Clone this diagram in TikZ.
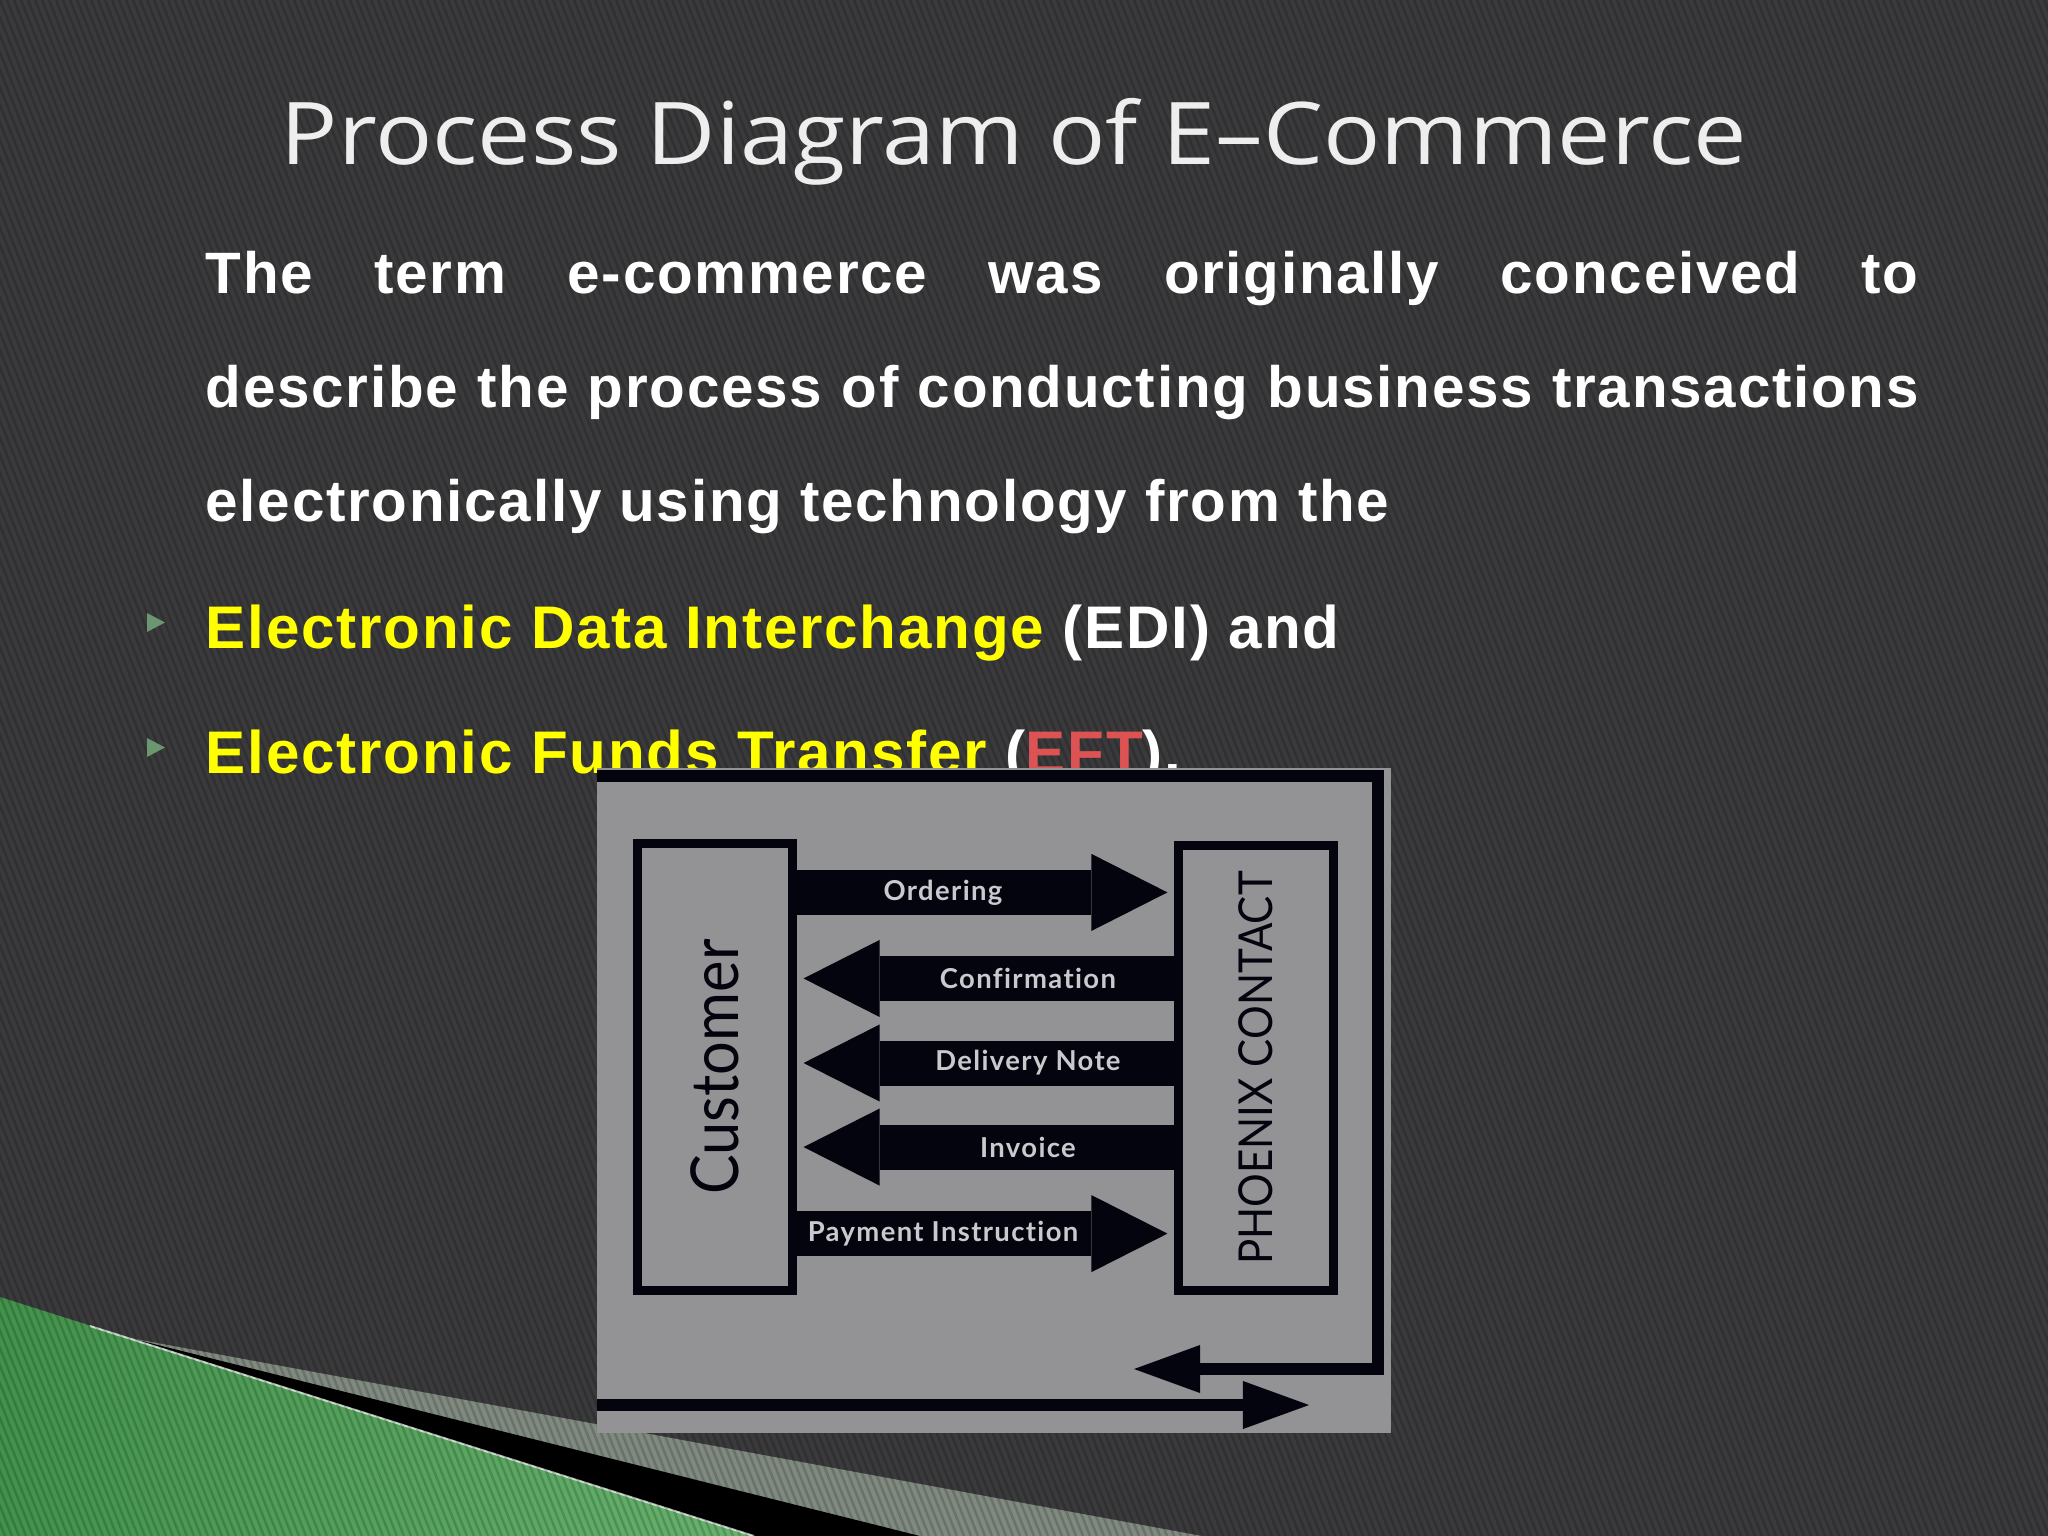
\documentclass[tikz,border=0pt]{standalone}
\usepackage{fontspec}
\usepackage{graphicx}
\usetikzlibrary{arrows.meta}
\setmainfont{Liberation Sans}
\newfontfamily\titlefont[FakeStretch=1.1]{Open Sans}
\newfontfamily\bodyfont[LetterSpace=3]{Liberation Sans}
\newfontfamily\boxfont[FakeStretch=0.9]{Lato}
\newfontfamily\flowfont[LetterSpace=5,Ligatures=NoCommon]{Lato}
\definecolor{slidebg}{RGB}{58,58,60}
\definecolor{titlegray}{RGB}{238,238,238}
\definecolor{hiyellow}{RGB}{255,255,0}
\definecolor{eftred}{RGB}{221,82,82}
\definecolor{bulletgreen}{RGB}{106,150,112}
\definecolor{panelgray}{RGB}{147,147,150}
\definecolor{ink}{RGB}{4,4,14}
\definecolor{labelgray}{RGB}{202,202,206}
\definecolor{wedgegray}{RGB}{128,138,128}
\definecolor{greendark}{RGB}{66,146,76}
\definecolor{greenlight}{RGB}{172,222,170}
\definecolor{greenmid}{RGB}{104,178,110}

\begin{document}
\begin{tikzpicture}[x=0.01cm,y=-0.01cm]
\tikzstyle{slidetext} = [anchor=base west, inner sep=0, text=white, font=\bodyfont\bfseries\fontsize{16.6}{20}\selectfont]
\tikzstyle{bullettext} = [slidetext, font=\bodyfont\bfseries\fontsize{17.1}{20}\selectfont]
\tikzstyle{partybox} = [draw=ink, line width=0.09cm, fill=panelgray, minimum width=1.55cm, minimum height=4.47cm, inner sep=0pt, outer sep=0pt, text=ink]
\tikzstyle{flowarrow} = [draw=ink, line width=0.45cm, shorten >=0.11cm, -{Triangle[length=0.76cm,width=0.77cm,line width=0pt]}]
\tikzstyle{flowlabel} = [text=labelgray, font=\flowfont\bfseries\fontsize{7.8}{9}\selectfont, pos=0.39]
\tikzstyle{feedback} = [draw=ink, line width=0.12cm, -{Triangle[length=0.66cm,width=0.48cm,line width=0pt]}]

\useasboundingbox (0,0) rectangle (2048,1536);
\fill[slidebg] (0,0) rectangle (2048,1536);

% corner wedges
\fill[wedgegray] (130,1338) -- (1202,1536) -- (754,1536) -- cycle;
\fill[black] (130,1338) -- (920,1536) -- (754,1536) -- cycle;
\shade[left color=greendark, middle color=greenlight, right color=greenmid] (0,1297) -- (754,1536) -- (0,1536) -- cycle;
\draw[white, opacity=0.7, line width=0.02cm] (90,1326) -- (754,1536);

% stripes
\begin{scope}
\clip (0,0) rectangle (2048,1536);
\foreach \s in {-616,-609,...,2048}
  \draw[black, opacity=0.17, line width=0.025cm] (\s,0) -- ++(614,1536);
\end{scope}

\node[anchor=base, inner sep=0, text=titlegray, font=\titlefont\fontsize{24.6}{28}\selectfont] (title) at (1014,164) {Process Diagram of E–Commerce};

\node[slidetext] (line1) at (205,293) {\makebox[17.12cm][s]{The term e-commerce was originally conceived to}};
\node[slidetext] (line2) at (205,407) {\makebox[17.12cm][s]{describe the process of conducting business transactions}};
\node[slidetext] (line3) at (205,521) {electronically using technology from the};
\node[bullettext] (edi) at (205,648) {\color{hiyellow}Electronic Data Interchange \color{white}(EDI) and};
\node[bullettext] (eft) at (205,773) {\color{hiyellow}Electronic Funds Transfer \color{white}(\color{eftred}EFT\color{white}).};
\fill[bulletgreen] (147,613) -- (165,622.5) -- (147,632) -- cycle;
\fill[bulletgreen] (147,738) -- (165,747.5) -- (147,757) -- cycle;

% diagram
\node[fill=panelgray, minimum width=7.94cm, minimum height=6.65cm, inner sep=0, outer sep=0] (panel) at (994,1100.5) {};

\node[partybox] (cust) at (715,1067) {\boxfont\fontsize{18.8}{20}\selectfont\rotatebox{90}{Customer}};
\node[partybox, minimum height=4.45cm] (phx) at (1256,1068) {\boxfont\fontsize{13.3}{15}\selectfont\rotatebox{90}{PHOENIX CONTACT}};

\draw[flowarrow] ([yshift=1.745cm]cust.east) -- ([yshift=1.745cm]cust.east -| phx.west) node[flowlabel] {Ordering};
\draw[flowarrow] ([yshift=0.885cm]cust.east -| phx.west) -- ([yshift=0.885cm]cust.east) node[flowlabel] {Confirmation};
\draw[flowarrow] ([yshift=0.04cm]cust.east -| phx.west) -- ([yshift=0.04cm]cust.east) node[flowlabel] {Delivery Note};
\draw[flowarrow] ([yshift=-0.80cm]cust.east -| phx.west) -- ([yshift=-0.80cm]cust.east) node[flowlabel] {Invoice};
\draw[flowarrow] ([yshift=-1.665cm]cust.east) -- ([yshift=-1.665cm]cust.east -| phx.west) node[flowlabel] {Payment Instruction};

\coordinate (loopin) at (597,776);
\coordinate (loopout) at (1134,1369);
\coordinate (feedin) at (597,1405);
\coordinate (feedout) at (1309,1405);
\draw[feedback] (loopin) -- (1378,776) -- (1378,1369) -- (loopout);
\draw[feedback] (feedin) -- (feedout);
\end{tikzpicture}
\end{document}
